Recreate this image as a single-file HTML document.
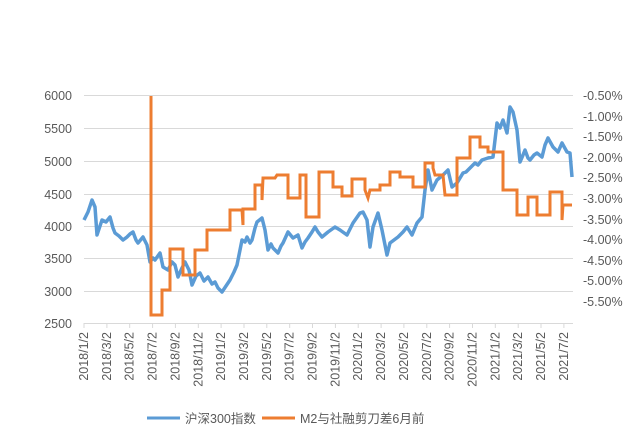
<!DOCTYPE html>
<html><head><meta charset="utf-8"><style>
body{margin:0;background:#fff;}
svg text{font-family:"Liberation Sans","Noto Sans CJK SC",sans-serif;fill:#595959;font-size:12.5px;}
</style></head><body>
<svg width="640" height="438" viewBox="0 0 640 438" xmlns="http://www.w3.org/2000/svg">
<rect x="0" y="0" width="640" height="438" fill="#fff"/>
<g stroke="#d9d9d9" stroke-width="1">
<line x1="84" y1="95.5" x2="573" y2="95.5"/>
<line x1="84" y1="128.5" x2="573" y2="128.5"/>
<line x1="84" y1="161.5" x2="573" y2="161.5"/>
<line x1="84" y1="194.5" x2="573" y2="194.5"/>
<line x1="84" y1="226.5" x2="573" y2="226.5"/>
<line x1="84" y1="258.5" x2="573" y2="258.5"/>
<line x1="84" y1="291.5" x2="573" y2="291.5"/>
<line x1="84" y1="323.5" x2="573" y2="323.5"/>
</g>
<g stroke="#d9d9d9" stroke-width="1">
<line x1="84" y1="323" x2="84" y2="328"/><line x1="106.9" y1="323" x2="106.9" y2="328"/><line x1="129.7" y1="323" x2="129.7" y2="328"/><line x1="152.6" y1="323" x2="152.6" y2="328"/><line x1="175.4" y1="323" x2="175.4" y2="328"/><line x1="198.3" y1="323" x2="198.3" y2="328"/><line x1="221.1" y1="323" x2="221.1" y2="328"/><line x1="244" y1="323" x2="244" y2="328"/><line x1="266.8" y1="323" x2="266.8" y2="328"/><line x1="289.7" y1="323" x2="289.7" y2="328"/><line x1="312.5" y1="323" x2="312.5" y2="328"/><line x1="335.4" y1="323" x2="335.4" y2="328"/><line x1="358.2" y1="323" x2="358.2" y2="328"/><line x1="381.1" y1="323" x2="381.1" y2="328"/><line x1="403.9" y1="323" x2="403.9" y2="328"/><line x1="426.8" y1="323" x2="426.8" y2="328"/><line x1="449.6" y1="323" x2="449.6" y2="328"/><line x1="472.5" y1="323" x2="472.5" y2="328"/><line x1="495.3" y1="323" x2="495.3" y2="328"/><line x1="518.2" y1="323" x2="518.2" y2="328"/><line x1="541" y1="323" x2="541" y2="328"/><line x1="563.9" y1="323" x2="563.9" y2="328"/>
</g>
<g text-anchor="end">
<text x="72" y="100">6000</text><text x="72" y="133">5500</text><text x="72" y="166">5000</text>
<text x="72" y="199">4500</text><text x="72" y="231">4000</text><text x="72" y="263">3500</text>
<text x="72" y="296">3000</text><text x="72" y="328">2500</text>
</g>
<g text-anchor="start">
<text x="583" y="100">-0.50%</text><text x="583" y="121">-1.00%</text><text x="583" y="141">-1.50%</text>
<text x="583" y="162">-2.00%</text><text x="583" y="182">-2.50%</text><text x="583" y="203">-3.00%</text>
<text x="583" y="224">-3.50%</text><text x="583" y="244">-4.00%</text><text x="583" y="265">-4.50%</text>
<text x="583" y="285">-5.00%</text><text x="583" y="306">-5.50%</text>
</g>
<g text-anchor="end">
<text transform="translate(88,332) rotate(-90)">2018/1/2</text>
<text transform="translate(110.9,332) rotate(-90)">2018/3/2</text>
<text transform="translate(133.7,332) rotate(-90)">2018/5/2</text>
<text transform="translate(156.6,332) rotate(-90)">2018/7/2</text>
<text transform="translate(179.4,332) rotate(-90)">2018/9/2</text>
<text transform="translate(202.3,332) rotate(-90)">2018/11/2</text>
<text transform="translate(225.1,332) rotate(-90)">2019/1/2</text>
<text transform="translate(248,332) rotate(-90)">2019/3/2</text>
<text transform="translate(270.8,332) rotate(-90)">2019/5/2</text>
<text transform="translate(293.7,332) rotate(-90)">2019/7/2</text>
<text transform="translate(316.5,332) rotate(-90)">2019/9/2</text>
<text transform="translate(339.4,332) rotate(-90)">2019/11/2</text>
<text transform="translate(362.2,332) rotate(-90)">2020/1/2</text>
<text transform="translate(385.1,332) rotate(-90)">2020/3/2</text>
<text transform="translate(407.9,332) rotate(-90)">2020/5/2</text>
<text transform="translate(430.8,332) rotate(-90)">2020/7/2</text>
<text transform="translate(453.6,332) rotate(-90)">2020/9/2</text>
<text transform="translate(476.5,332) rotate(-90)">2020/11/2</text>
<text transform="translate(499.3,332) rotate(-90)">2021/1/2</text>
<text transform="translate(522.2,332) rotate(-90)">2021/3/2</text>
<text transform="translate(545,332) rotate(-90)">2021/5/2</text>
<text transform="translate(567.9,332) rotate(-90)">2021/7/2</text>
</g>
<polyline fill="none" stroke="#5b9bd5" stroke-width="3.5" stroke-linejoin="round" points="84,220 88,212 92,200 95,207 97,235 100,226 102,220 106,222 110,217 113,228 115,233 119,236 123,240 127,237 130,234 133,232 136,240 138,243 143,237 147,245 150,262 153,258 155,260 160,253 163,267 168,270 172,262 175,265 178,277 182,268 185,262 189,270 192,285 196,276 200,273 204,281 208,277 212,284 215,282 218,288 222,292 226,286 230,280 234,272 237,265 240,250 242,240 245,242 247,237 250,243 252,240 255,228 257,222 262,218 265,230 268,250 271,244 273,248 278,253 281,246 283,243 288,232 293,238 298,235 302,248 305,242 308,238 312,232 315,227 318,232 322,237 328,232 335,227 340,230 347,235 353,223 360,213 363,212 367,220 370,247 373,227 378,213 382,230 385,245 387,255 390,243 394,240 398,237 403,232 407,227 412,235 417,223 422,217 425,190 428,170 432,190 437,180 443,175 448,170 452,187 457,183 460,178 463,173 466,172 470,168 475,163 478,165 482,160 488,158 493,157 497,123 500,128 503,120 507,133 510,107 513,112 517,130 520,162 523,155 525,150 528,158 530,160 534,155 537,153 542,157 545,145 548,138 553,147 558,152 562,143 567,152 570,153 572,177"/>
<polyline fill="none" stroke="#ed7d31" stroke-width="3" stroke-linejoin="miter" points="151,96 151,315 162,315 162,290 170,290 170,249 183,249 183,275 195,275 195,250 207,250 207,230 230,230 230,210 242,210 243,225 243,209 255,209 255,185 262,185 262,200 263,178 275,178 277,175 288,175 288,198 300,198 300,175 306,175 306,217 319,217 319,172 333,172 333,187 342,187 342,196 352,196 352,179 365,179 365,190 368,198 370,190 380,190 380,185 390,185 390,172 400,172 400,177 413,177 413,187 425,187 425,163 433,163 433,168 435,175 443,175 445,195 457,195 457,158 470,158 470,137 480,137 480,147 488,147 488,152 503,152 503,190 517,190 517,215 528,215 528,197 537,197 537,215 550,215 550,192 562,192 562,220 563,205 572,205"/>
<line x1="147" y1="418" x2="180" y2="418" stroke="#5b9bd5" stroke-width="3"/>
<text x="185" y="423" font-size="13">沪深300指数</text>
<line x1="262" y1="418" x2="295" y2="418" stroke="#ed7d31" stroke-width="3"/>
<text x="300" y="423" font-size="13">M2与社融剪刀差6月前</text>
</svg>
</body></html>
